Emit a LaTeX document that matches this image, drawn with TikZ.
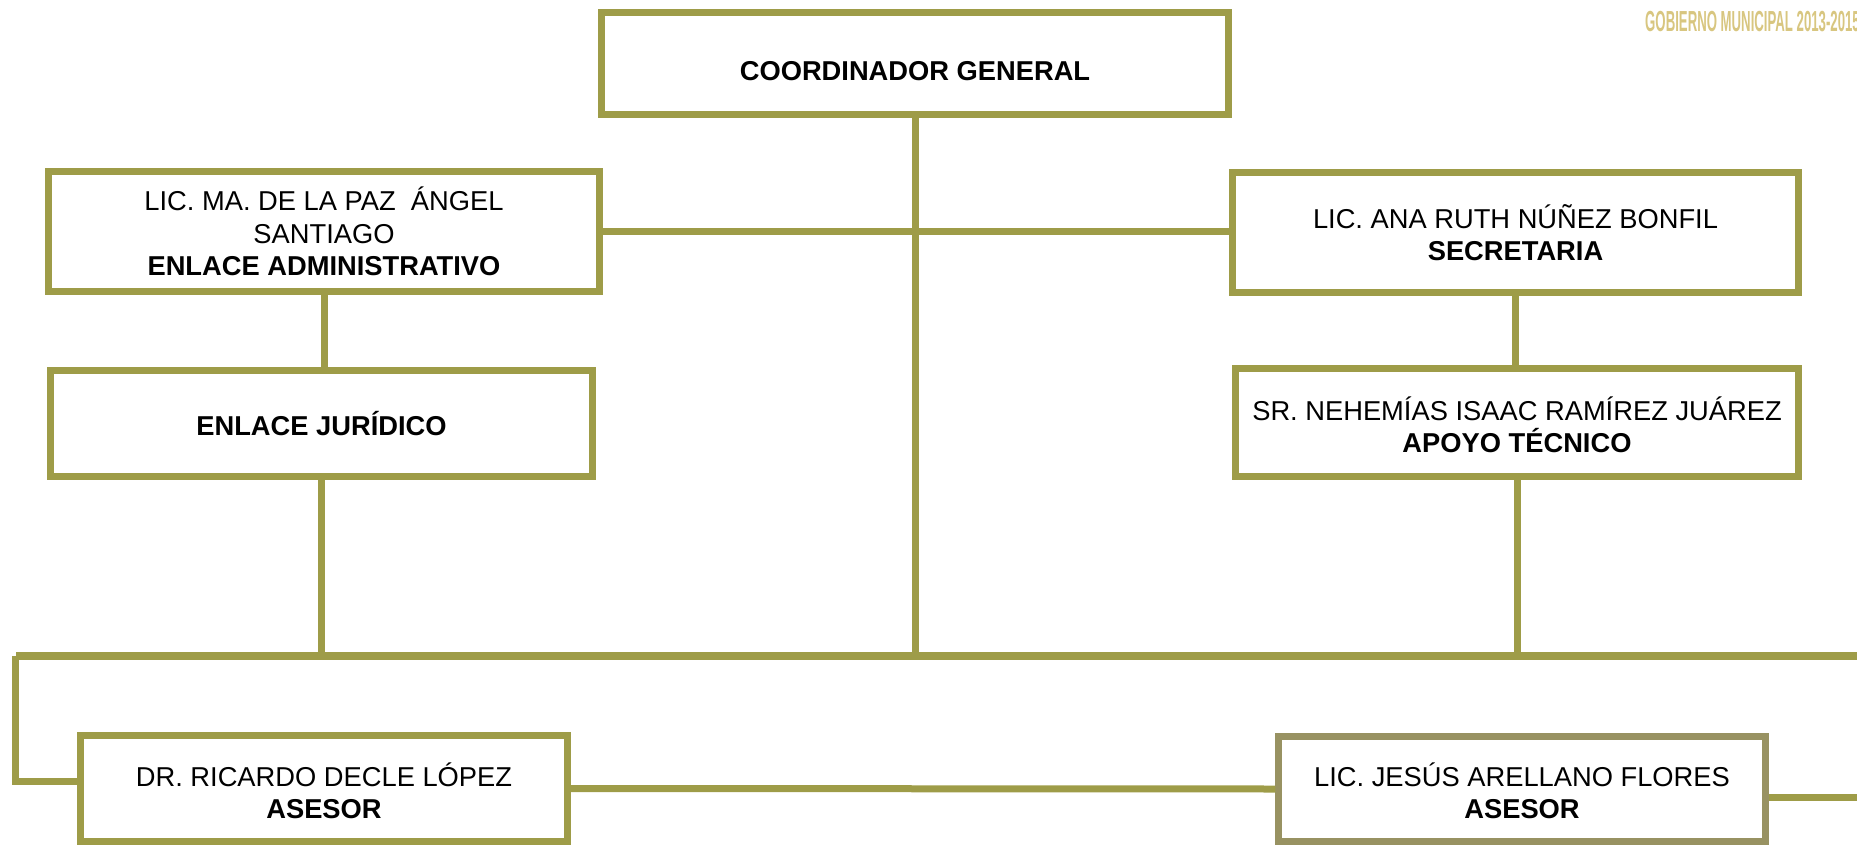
\documentclass[tikz,border=0pt]{standalone}
\usepackage{fontspec}
\setmainfont{Liberation Sans}
\definecolor{oliv}{RGB}{158,156,72}
\definecolor{olivb}{RGB}{152,146,98}
\definecolor{logo}{RGB}{216,198,128}
\begin{document}
\begin{tikzpicture}[x=1pt,y=-1pt,
  box/.style={draw=oliv,line width=6.5pt,fill=white,rectangle,inner sep=0pt,align=center,
    font=\fontsize{27.3}{32.5}\selectfont},
  txt/.style={inner sep=0pt,align=center,font=\fontsize{27.3}{32.5}\selectfont},
  conn/.style={draw=oliv,line width=7pt},
  busline/.style={draw=oliv,line width=8pt}]
\useasboundingbox (0,0) rectangle (1857,845);
% boxes
\node[box,minimum width=627pt,minimum height=102pt] (coord) at (915,63.5) {};
\node[txt] (coordtxt) at ([yshift=-8pt]coord.center) {\textbf{COORDINADOR GENERAL}};
\node[box,minimum width=551pt,minimum height=120pt] (adm) at (324,231.5) {LIC. MA. DE LA PAZ \ ÁNGEL\\SANTIAGO\\\textbf{ENLACE ADMINISTRATIVO}};
\node[box,minimum width=566pt,minimum height=120pt] (sec) at (1515.5,232.5) {LIC. ANA RUTH NÚÑEZ BONFIL\\\textbf{SECRETARIA}};
\node[box,minimum width=542pt,minimum height=106pt] (jur) at (321.5,423.5) {\textbf{ENLACE JURÍDICO}};
\node[box,minimum width=563pt,minimum height=108pt] (apo) at (1517,422.5) {};
\node[txt] (apotxt) at ([yshift=-2.5pt]apo.center) {SR. NEHEMÍAS ISAAC RAMÍREZ JUÁREZ\\\textbf{APOYO TÉCNICO}};
\node[box,minimum width=487pt,minimum height=106pt] (ric) at (324,788.5) {};
\node[txt] (rictxt) at ([yshift=-2.5pt]ric.center) {DR. RICARDO DECLE LÓPEZ\\\textbf{ASESOR}};
\node[box,draw=olivb,minimum width=487pt,minimum height=105pt] (jes) at (1522,789) {};
\node[txt] (jestxt) at ([yshift=-2pt]jes.center) {LIC. JESÚS ARELLANO FLORES\\\textbf{ASESOR}};
% logo text
\node[anchor=north east,inner sep=0pt,text=logo] (logo) at (1860,11)
  {\scalebox{0.455}[1]{\fontsize{29}{29}\selectfont\bfseries GOBIERNO MUNICIPAL 2013-2015}};
% bus coordinates
\coordinate (busL) at (15.5,655.5);
\coordinate (busR) at (1860,655.5);
\coordinate (endR) at (1860,797);
% connectors
\draw[conn] (adm.east) -- (sec.west |- adm.east);
\draw[conn] (coord.south) -- (coord.south |- busL);
\draw[conn] (adm.south) -- (adm.south |- jur.north);
\draw[conn] (jur.south) -- (jur.south |- busL);
\draw[conn] (sec.south) -- (sec.south |- apo.north);
\draw[conn] (apo.south) -- (apo.south |- busL);
\draw[busline] (busR) -- (busL);
\draw[conn] (busL) |- ([yshift=7.5pt]ric.west);
\draw[conn] (ric.east) -- (jes.west);
\draw[conn] ([yshift=-8pt]jes.east) -- (endR);
\end{tikzpicture}
\end{document}
